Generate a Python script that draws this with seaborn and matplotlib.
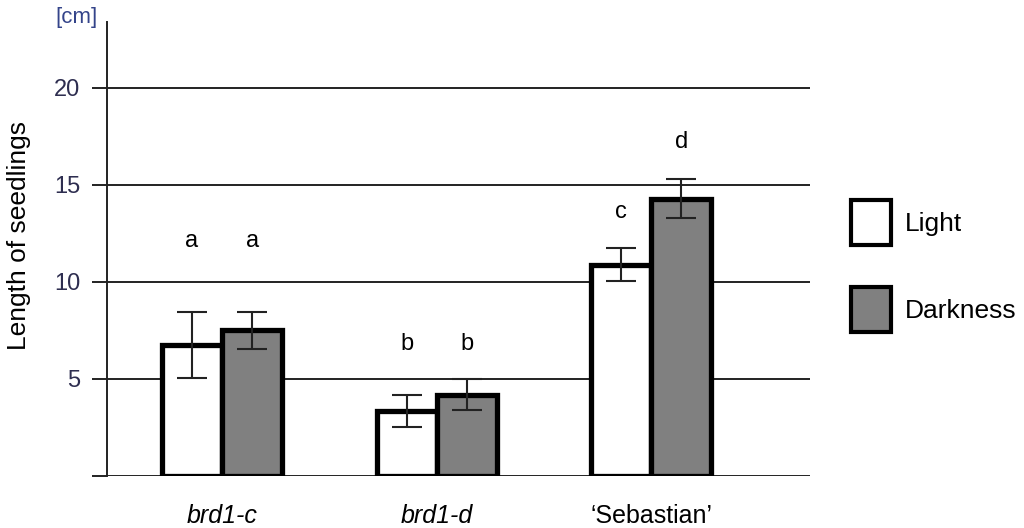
import pandas as pd
import seaborn as sns
import matplotlib.pyplot as plt
from matplotlib.patches import Patch

# Data
genotypes = ["brd1-c", "brd1-d", "\u2018Sebastian\u2019"]
conditions = ["Light", "Darkness"]
light_mean = [6.75, 3.35, 10.9]
dark_mean = [7.5, 4.2, 14.3]
light_err = [1.7, 0.85, 0.85]
dark_err = [0.95, 0.8, 1.0]
light_letters = ["a", "b", "c"]
dark_letters = ["a", "b", "d"]
letter_y_light = [12.1, 6.8, 13.6]
letter_y_dark = [12.1, 6.8, 17.2]
y_ticks = [0, 5, 10, 15, 20]
y_tick_labels = ["", "5", "10", "15", "20"]

data = pd.DataFrame({
    "Genotype": genotypes * 2,
    "Condition": ["Light"] * 3 + ["Darkness"] * 3,
    "Length": light_mean + dark_mean,
})

sns.set_style("white")
plt.rcParams['font.family'] = ['Liberation Sans', 'DejaVu Sans']
plt.rcParams['text.color'] = 'black'
plt.rcParams['axes.labelcolor'] = 'black'
plt.rcParams['xtick.color'] = 'black'

fig = plt.figure(figsize=(10.24, 5.28), dpi=100)
ax = fig.add_axes([107 / 1024, 1 - 476 / 528, (810 - 107) / 1024, (476 - 22) / 528])

# Gridlines first so bars sit on top
for yv in y_ticks:
    ax.axhline(yv, color="#222222", lw=1.4, zorder=0)

sns.barplot(
    data=data, x="Genotype", y="Length", hue="Condition",
    hue_order=conditions, palette=["white", "#808080"],
    width=0.56, edgecolor="black", linewidth=3.8, errorbar=None,
    legend=False, ax=ax, zorder=2
)

# Error bars and significance letters
offset = 0.14
for i in range(len(genotypes)):
    for dx, m, e, lab, ly in [
        (-offset, light_mean[i], light_err[i], light_letters[i], letter_y_light[i]),
        (offset, dark_mean[i], dark_err[i], dark_letters[i], letter_y_dark[i]),
    ]:
        ax.errorbar(i + dx, m, yerr=e, fmt="none", ecolor="#222222",
                    elinewidth=1.5, capsize=11, capthick=1.5, zorder=3)
        ax.text(i + dx, ly, lab, ha="center", va="center", fontsize=17)

ax.set_xlim(-0.536, 2.74)
ax.set_ylim(0, 23.4)
ax.set_yticks(y_ticks)
ax.set_yticklabels(y_tick_labels, color="#2e2e50", fontsize=17)
ax.tick_params(axis="y", left=True, length=11, width=1.4, color="#222222", pad=8)
ax.tick_params(axis="x", bottom=False, pad=17)
ax.set_xticks(range(len(genotypes)))
ax.set_xticklabels(genotypes, fontsize=18)
for t in ax.get_xticklabels()[:2]:
    t.set_style("italic")

for side in ["top", "right", "bottom"]:
    ax.spines[side].set_visible(False)
ax.spines["left"].set_color("#222222")
ax.spines["left"].set_linewidth(1.4)

ax.set_xlabel("")
ax.set_ylabel("Length of seedlings", fontsize=19)
ax.yaxis.set_label_coords(-0.108, 0.53)
fig.text(55 / 1024, 1 - 18 / 528, "[cm]", color="#34448a", fontsize=16,
         ha="left", va="center")

handles = [
    Patch(facecolor="white", edgecolor="black", linewidth=3),
    Patch(facecolor="#808080", edgecolor="black", linewidth=3),
]
fig.legend(handles, conditions, loc="upper left",
           bbox_to_anchor=(851 / 1024, 1 - 200 / 528), frameon=False,
           fontsize=19, handlelength=1.5, handleheight=2.25,
           labelspacing=1.6, handletextpad=0.55, borderpad=0, borderaxespad=0)

fig.savefig("out.png", dpi=100)
